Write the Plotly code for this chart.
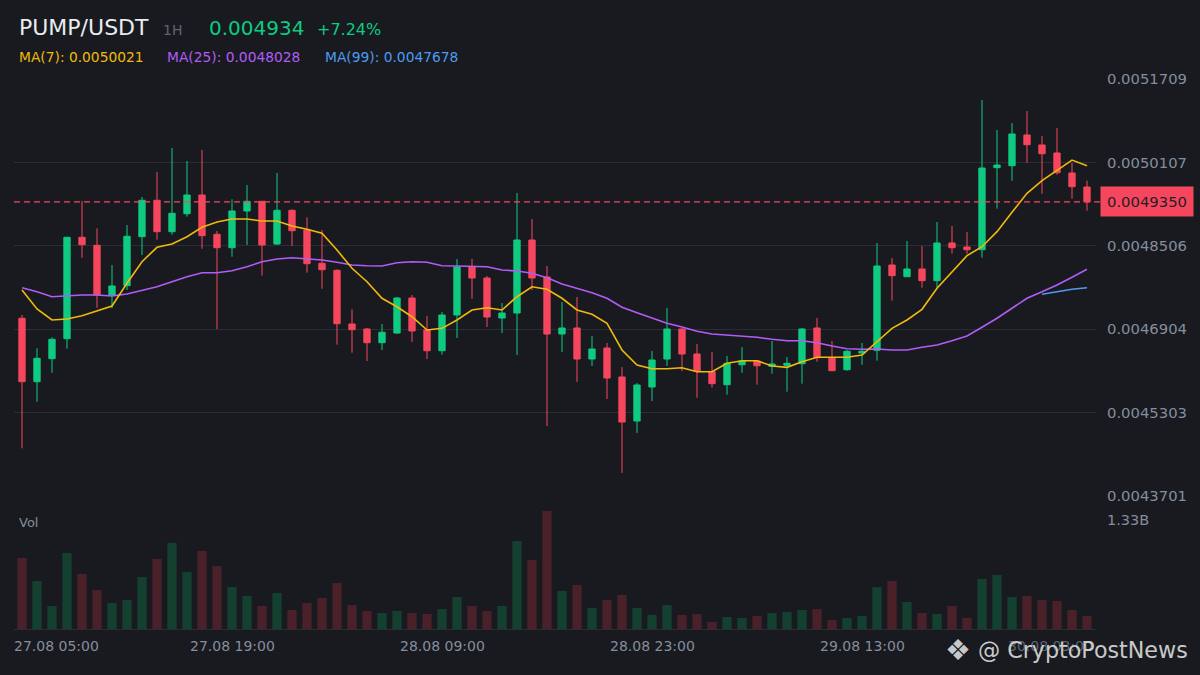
import pandas as pd
import plotly.graph_objects as go

# hourly candles, 27.08 05:00 -> 30.08 04:00
times = pd.date_range("2025-08-27 05:00", periods=72, freq="h")

opens = [0.0047114, 0.0045896, 0.0046338, 0.0046722, 0.0048669, 0.0048515, 0.0047561, 0.0047740, 0.0048681, 0.0049380,
         0.0048777, 0.0049122, 0.0049481, 0.0048727, 0.0048469, 0.0049174, 0.0049360, 0.0048540, 0.0049187, 0.0048809,
         0.0048170, 0.0048035, 0.0047004, 0.0046908, 0.0046645, 0.0046831, 0.0047503, 0.0046889, 0.0046491, 0.0047177,
         0.0048099, 0.0047887, 0.0047119, 0.0047215, 0.0048617, 0.0047907, 0.0046812, 0.0046927, 0.0046332, 0.0046543,
         0.0045986, 0.0045141, 0.0045794, 0.0046332, 0.0046908, 0.0046428, 0.0046088, 0.0045838, 0.0046222, 0.0046294,
         0.0046192, 0.0046211, 0.0046242, 0.0046927, 0.0046357, 0.0046126, 0.0046447, 0.0046499, 0.0048137, 0.0047912,
         0.0048060, 0.0047836, 0.0048560, 0.0048483, 0.0048431, 0.0050006, 0.0050044, 0.0050634, 0.0050442, 0.0050288,
         0.0049904, 0.0049635]
highs = [0.0047177, 0.0046537, 0.0046749, 0.0048669, 0.0049366, 0.0048842, 0.0048137, 0.0048905, 0.0049443, 0.0049923,
         0.0050384, 0.0050134, 0.0050346, 0.0048790, 0.0049399, 0.0049673, 0.0049360, 0.0049904, 0.0049207, 0.0049053,
         0.0048809, 0.0048054, 0.0047286, 0.0046927, 0.0047004, 0.0047528, 0.0047561, 0.0047158, 0.0047235, 0.0048252,
         0.0048252, 0.0047926, 0.0047407, 0.0049520, 0.0049020, 0.0048118, 0.0047427, 0.0047523, 0.0046774, 0.0046639,
         0.0046178, 0.0045871, 0.0046486, 0.0047311, 0.0046927, 0.0046620, 0.0046466, 0.0046390, 0.0046562, 0.0046313,
         0.0046678, 0.0046370, 0.0046927, 0.0047119, 0.0046678, 0.0046505, 0.0046639, 0.0048560, 0.0048272, 0.0048598,
         0.0048502, 0.0048963, 0.0048886, 0.0048771, 0.0051306, 0.0050730, 0.0050864, 0.0051094, 0.0050614, 0.0050768,
         0.0050096, 0.0049756]
lows = [0.0044617, 0.0045512, 0.0046069, 0.0046530, 0.0048277, 0.0047317, 0.0047306, 0.0047657, 0.0048329, 0.0048623,
        0.0048719, 0.0049065, 0.0048450, 0.0046908, 0.0048296, 0.0048521, 0.0047932, 0.0048521, 0.0048502, 0.0047989,
        0.0047682, 0.0046607, 0.0046453, 0.0046294, 0.0046505, 0.0046812, 0.0046658, 0.0046332, 0.0046415, 0.0046735,
        0.0047484, 0.0046946, 0.0046831, 0.0046409, 0.0047657, 0.0045045, 0.0046466, 0.0045890, 0.0046198, 0.0045564,
        0.0044143, 0.0044911, 0.0045525, 0.0046198, 0.0046101, 0.0045589, 0.0045781, 0.0045646, 0.0046069, 0.0045838,
        0.0046050, 0.0045704, 0.0045858, 0.0046280, 0.0046107, 0.0046107, 0.0046222, 0.0046299, 0.0047452, 0.0047912,
        0.0047701, 0.0047701, 0.0048354, 0.0048354, 0.0048277, 0.0049218, 0.0049756, 0.0050102, 0.0049506, 0.0049871,
        0.0049410, 0.0049180]
closes = [0.0045896, 0.0046345, 0.0046710, 0.0048669, 0.0048527, 0.0047561, 0.0047734, 0.0048688, 0.0049380, 0.0048777,
          0.0049130, 0.0049481, 0.0048700, 0.0048469, 0.0049174, 0.0049360, 0.0048521, 0.0049187, 0.0048796, 0.0048162,
          0.0048047, 0.0047010, 0.0046895, 0.0046645, 0.0046845, 0.0047503, 0.0046870, 0.0046491, 0.0047177, 0.0048099,
          0.0047887, 0.0047138, 0.0047215, 0.0048617, 0.0047887, 0.0046812, 0.0046927, 0.0046332, 0.0046524, 0.0045967,
          0.0045122, 0.0045833, 0.0046313, 0.0046908, 0.0046428, 0.0046101, 0.0045858, 0.0046249, 0.0046294, 0.0046203,
          0.0046236, 0.0046249, 0.0046908, 0.0046357, 0.0046107, 0.0046480, 0.0046480, 0.0048118, 0.0047932, 0.0048060,
          0.0047836, 0.0048560, 0.0048469, 0.0048431, 0.0050000, 0.0050057, 0.0050653, 0.0050447, 0.0050274, 0.0049910,
          0.0049641, 0.0049350]

# volume in millions
volumes_m = [800, 541, 259, 857, 620, 440, 293, 327, 586, 789,
             969, 642, 879, 710, 473, 372, 259, 406, 214, 293,
             349, 518, 270, 203, 180, 203, 180, 169, 225, 361,
             259, 203, 259, 992, 778, 1330, 428, 496, 237, 327,
             383, 237, 158, 270, 158, 169, 79, 135, 124, 147,
             180, 192, 214, 225, 101, 124, 147, 473, 541, 304,
             180, 169, 259, 124, 564, 609, 361, 372, 327, 316,
             214, 147]

ma7 = [0.0047657, 0.0047292, 0.0047081, 0.0047100, 0.0047163, 0.0047259, 0.0047350, 0.0047786, 0.0048200, 0.0048477,
       0.0048540, 0.0048681, 0.0048861, 0.0048963, 0.0049020, 0.0049020, 0.0048982, 0.0048982, 0.0048886, 0.0048823,
       0.0048746, 0.0048425, 0.0048074, 0.0047816, 0.0047498, 0.0047336, 0.0047144, 0.0046889, 0.0046921, 0.0047081,
       0.0047273, 0.0047317, 0.0047273, 0.0047528, 0.0047720, 0.0047670, 0.0047498, 0.0047273, 0.0047190, 0.0047017,
       0.0046505, 0.0046217, 0.0046146, 0.0046146, 0.0046165, 0.0046088, 0.0046088, 0.0046249, 0.0046299, 0.0046299,
       0.0046197, 0.0046172, 0.0046280, 0.0046365, 0.0046365, 0.0046365, 0.0046409, 0.0046664, 0.0046921, 0.0047081,
       0.0047286, 0.0047690, 0.0048008, 0.0048316, 0.0048488, 0.0048777, 0.0049149, 0.0049514, 0.0049756, 0.0049961,
       0.0050153, 0.0050044]
ma25 = [0.0047701, 0.0047624, 0.0047528, 0.0047547, 0.0047561, 0.0047561, 0.0047542, 0.0047580, 0.0047657, 0.0047720,
        0.0047816, 0.0047912, 0.0047989, 0.0047989, 0.0048028, 0.0048104, 0.0048200, 0.0048252, 0.0048277, 0.0048252,
        0.0048233, 0.0048189, 0.0048137, 0.0048124, 0.0048118, 0.0048181, 0.0048200, 0.0048189, 0.0048124, 0.0048118,
        0.0048118, 0.0048104, 0.0048041, 0.0048022, 0.0047978, 0.0047893, 0.0047772, 0.0047690, 0.0047605, 0.0047498,
        0.0047325, 0.0047221, 0.0047114, 0.0047017, 0.0046946, 0.0046866, 0.0046812, 0.0046793, 0.0046774, 0.0046749,
        0.0046710, 0.0046683, 0.0046683, 0.0046645, 0.0046582, 0.0046530, 0.0046518, 0.0046524, 0.0046505, 0.0046505,
        0.0046557, 0.0046601, 0.0046683, 0.0046774, 0.0046941, 0.0047114, 0.0047306, 0.0047498, 0.0047624, 0.0047753,
        0.0047901, 0.0048054]
ma99 = [0.0047574, 0.0047624, 0.0047670, 0.0047701]  # only the last four hours

price_ticks = [0.0043701, 0.0045303, 0.0046904, 0.0048506, 0.0050107, 0.0051709]
time_labels = ["27.08 05:00", "27.08 19:00", "28.08 09:00", "28.08 23:00", "29.08 13:00", "30.08 03:00"]
label_idx = [0, 14, 28, 42, 56, 70]
last_price = 0.0049350

BG = "#181a20"
GRID = "#2a2d33"
UP = "#0ecb81"
DOWN = "#f6465d"
TXT = "#848e9c"
FONT = "DejaVu Sans"

# pixel helpers for the overlay text (plot area: x 14..1096, y 78..629)
def px(x):
    return (x - 14) / 1082

def py(y):
    return (629 - y) / 551

vol_colors = ["#14402f" if c >= o else "#4a2129" for o, c in zip(opens, closes)]

fig = go.Figure()
fig.add_trace(go.Candlestick(
    x=times, open=opens, high=highs, low=lows, close=closes,
    increasing=dict(line=dict(color=UP, width=1), fillcolor=UP),
    decreasing=dict(line=dict(color=DOWN, width=1), fillcolor=DOWN),
    whiskerwidth=0, xaxis="x", yaxis="y", hoverinfo="skip"
))
fig.add_trace(go.Scatter(x=times, y=ma25, mode="lines", line=dict(color="#b25cf5", width=1.6),
                         xaxis="x", yaxis="y", hoverinfo="skip"))
fig.add_trace(go.Scatter(x=times, y=ma7, mode="lines", line=dict(color="#f0b90b", width=1.6),
                         xaxis="x", yaxis="y", hoverinfo="skip"))
fig.add_trace(go.Scatter(x=times[68:], y=ma99, mode="lines", line=dict(color="#4e9af0", width=1.6),
                         xaxis="x", yaxis="y", hoverinfo="skip"))
fig.add_trace(go.Bar(x=times, y=volumes_m, marker=dict(color=vol_colors, line=dict(width=0)),
                     width=0.62 * 3600000, xaxis="x2", yaxis="y2", hoverinfo="skip"))

t0 = times[0]
xr = [t0 - pd.Timedelta(minutes=32), t0 + pd.Timedelta(minutes=int(71.6 * 60))]
px_price = (price_ticks[-1] - price_ticks[0]) / 417  # price per pixel

annotations = [
    dict(text="PUMP/USDT", x=px(17), y=py(27), font=dict(size=22, color="#eaecef")),
    dict(text="1H", x=px(161), y=py(30), font=dict(size=14, color="#5e6673")),
    dict(text="0.004934", x=px(207), y=py(28), font=dict(size=20, color=UP)),
    dict(text="+7.24%", x=px(315), y=py(29), font=dict(size=16, color=UP)),
    dict(text="MA(7): 0.0050021", x=px(17), y=py(57), font=dict(size=13.8, color="#f0b90b")),
    dict(text="MA(25): 0.0048028", x=px(165), y=py(57), font=dict(size=13.8, color="#b25cf5")),
    dict(text="MA(99): 0.0047678", x=px(323), y=py(57), font=dict(size=13.8, color="#4e9af0")),
    dict(text="Vol", x=px(17), y=py(522), font=dict(size=13, color=TXT)),
    dict(text="1.33B", x=px(1105), y=py(520), font=dict(size=14.5, color=TXT)),
]
for a in annotations:
    a.update(xref="paper", yref="paper", xanchor="left", yanchor="middle", showarrow=False)

# time labels under the volume pane
for i, (k, lab) in enumerate(zip(label_idx, time_labels)):
    a = dict(text=lab, xref="x", yref="paper", x=times[k], y=py(646), yanchor="middle",
             showarrow=False, font=dict(size=14, color=TXT))
    if i == 0:
        a.update(x=px(12), xref="paper", xanchor="left")
    elif i == len(time_labels) - 1:
        a.update(x=px(1095), xref="paper", xanchor="right", font=dict(size=14, color="#5d6470"))
    else:
        a.update(xanchor="center")
    annotations.append(a)

# last price tag
annotations.append(dict(text="0.0049350", xref="paper", yref="y", x=px(1100), y=last_price,
                        xanchor="left", yanchor="middle", showarrow=False, bgcolor=DOWN,
                        borderpad=6, font=dict(size=14.8, color="#1e2026")))

# watermark
annotations.append(dict(text="❖", xref="paper", yref="paper", x=px(958), y=py(650),
                        xanchor="center", yanchor="middle", showarrow=False,
                        font=dict(size=29, color="rgba(225,225,225,0.9)")))
annotations.append(dict(text="@ CryptoPostNews", xref="paper", yref="paper", x=px(976), y=py(650),
                        xanchor="left", yanchor="middle", showarrow=False,
                        font=dict(size=22.2, color="rgba(225,225,225,0.9)")))

fig.update_layout(
    width=1200, height=675,
    margin=dict(l=14, r=104, t=78, b=46),
    paper_bgcolor=BG, plot_bgcolor=BG,
    font=dict(family=FONT, color=TXT, size=14),
    showlegend=False,
    boxgap=0.4,
    hovermode=False,
    xaxis=dict(domain=[0, 1], range=xr, anchor="y", showticklabels=False, showgrid=False,
               zeroline=False, rangeslider=dict(visible=False), fixedrange=True),
    xaxis2=dict(domain=[0, 1], range=xr, anchor="y2", matches="x", showticklabels=False, showgrid=False,
                zeroline=False, showline=True, linecolor=GRID, linewidth=1, fixedrange=True),
    yaxis=dict(domain=[py(497), 1], range=[price_ticks[0] - px_price, price_ticks[-1] + px_price],
               side="right", tickvals=price_ticks, ticktext=[f"{v:.7f}" for v in price_ticks],
               tickfont=dict(size=14.8, color=TXT), ticklabelstandoff=10,
               showgrid=True, gridcolor=GRID, gridwidth=1, zeroline=False, showline=False, fixedrange=True),
    yaxis2=dict(domain=[0, py(510)], range=[0, 1341], side="right", showticklabels=False,
                showgrid=False, zeroline=False, fixedrange=True),
    annotations=annotations,
    shapes=[dict(type="line", xref="paper", yref="y", x0=0, x1=1.004, y0=last_price, y1=last_price,
                 line=dict(color=DOWN, width=1.3, dash="6px,4px"))],
)

fig.write_html("out.html", config={"displayModeBar": False},
               post_script="document.body.style.margin='0';document.body.style.background='#181a20';")
